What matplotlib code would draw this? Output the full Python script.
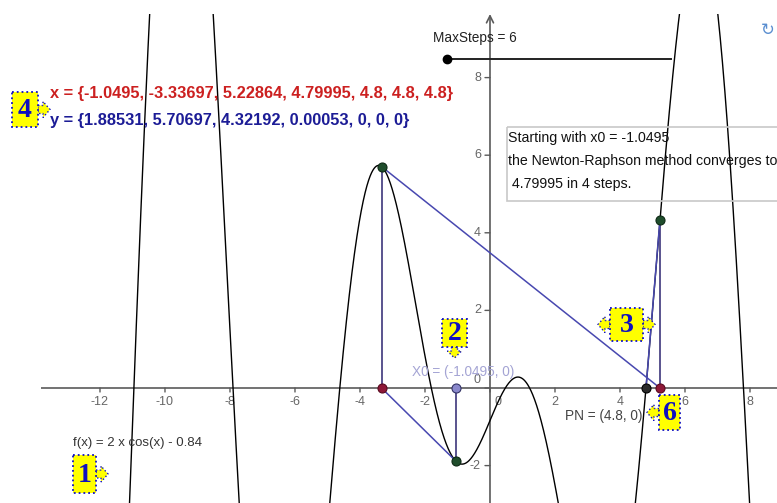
import numpy as np
import matplotlib.pyplot as plt
from matplotlib.patches import Rectangle, Polygon

# f(x) = 2 x cos(x) - 0.84
A_COEF = 2.0
B_COEF = -0.84

# Newton-Raphson iterates, as listed in the worksheet
x_steps = [-1.0495, -3.33697, 5.22864, 4.79995, 4.8, 4.8, 4.8]
y_steps = [1.88531, 5.70697, 4.32192, 0.00053, 0, 0, 0]
# signed function values at the first three iterates
f_steps = [-1.88531, 5.70697, 4.32192]
x_root = 4.8
max_steps = 6

x_ticks = [-12, -10, -8, -6, -4, -2, 0, 2, 4, 6, 8]
y_ticks = [-2, 0, 2, 4, 6, 8]

W, H = 777, 503
FONT = "Liberation Sans"
AXIS_GRAY = "#5a5a5a"
TANGENT_BLUE = "#4848b0"
VERT_NAVY = "#2c2470"


def f(x):
    return A_COEF * x * np.cos(x) + B_COEF


def fmt_list(vals):
    return "{" + ", ".join(f"{v:g}" for v in vals) + "}"


def callout(ov, x0, y0, w, h, label, arrows):
    """Yellow numbered tag with dotted blue border and little arrow tabs."""
    yellow, blue = "#ffff00", "#1010c0"
    xc, yc = x0 + w / 2, y0 + h / 2
    for side in arrows:
        if side == "right":
            b = x0 + w
            pts = [(b, yc - 4), (b + 5, yc - 4), (b + 5, yc - 8), (b + 12, yc),
                   (b + 5, yc + 8), (b + 5, yc + 4), (b, yc + 4)]
        elif side == "left":
            b = x0
            pts = [(b, yc - 4), (b - 5, yc - 4), (b - 5, yc - 8), (b - 12, yc),
                   (b - 5, yc + 8), (b - 5, yc + 4), (b, yc + 4)]
        else:  # down
            b = y0 + h
            pts = [(xc - 3, b), (xc - 3, b + 4), (xc - 7, b + 4), (xc, b + 11),
                   (xc + 7, b + 4), (xc + 3, b + 4), (xc + 3, b)]
        ov.add_patch(Polygon(pts, closed=True, facecolor=yellow, edgecolor=blue,
                             lw=1.0, ls=":", zorder=5))
    ov.add_patch(Rectangle((x0, y0), w, h, facecolor=yellow, edgecolor=blue,
                           lw=1.3, ls=":", zorder=6))
    ov.text(xc, yc + 1, label, ha="center", va="center", color=blue,
            fontsize=20, fontweight="bold", family="Liberation Serif", zorder=7)


fig = plt.figure(figsize=(W / 100, H / 100), dpi=100)
fig.patch.set_facecolor("white")

# graphics view: pixel 41..777 horizontally, 14..503 vertically
ax = fig.add_axes([41 / W, 0, 736 / W, 489 / H])
ax.set_xlim(-13.815, 8.831)
ax.set_ylim(-2.964, 9.639)
ax.axis("off")

# axes with ticks
ax.axhline(0, color=AXIS_GRAY, lw=1.2, zorder=1)
ax.annotate("", xy=(0, 9.639), xytext=(0, -2.964),
            arrowprops=dict(arrowstyle="->,head_length=0.5,head_width=0.25",
                            color=AXIS_GRAY, lw=1.2, shrinkA=0, shrinkB=0),
            zorder=1)
for t in x_ticks:
    ax.annotate("", xy=(t, 0), xytext=(0, -4), textcoords="offset pixels",
                arrowprops=dict(arrowstyle="-", color=AXIS_GRAY, lw=1,
                                shrinkA=0, shrinkB=0))
    dx = 8 if t == 0 else 0
    ax.annotate(f"{t}", xy=(t, 0), xytext=(dx, -14), textcoords="offset pixels",
                ha="center", va="center", fontsize=9, color="#666666",
                family=FONT)
for t in y_ticks:
    ax.annotate("", xy=(0, t), xytext=(-5, 0), textcoords="offset pixels",
                arrowprops=dict(arrowstyle="-", color=AXIS_GRAY, lw=1,
                                shrinkA=0, shrinkB=0))
    dy = 8 if t == 0 else 0
    ax.annotate(f"{t}", xy=(0, t), xytext=(-9, dy), textcoords="offset pixels",
                ha="right", va="center", fontsize=9, color="#666666",
                family=FONT)

# function graph
xs = np.linspace(-13.9, 8.9, 3000)
ax.plot(xs, f(xs), color="black", lw=1.0, zorder=3)

# Newton-Raphson construction
for k in range(3):
    xk, fk, xn = x_steps[k], f_steps[k], x_steps[k + 1]
    ax.plot([xk, xk], [0, fk], color=VERT_NAVY, lw=1.1, zorder=4)
    ax.plot([xk, xn], [fk, 0], color=TANGENT_BLUE, lw=1.1, zorder=4)

ax.plot(x_steps[1:3], [0, 0], "o", ms=6.5, mfc="#8e1838", mec="#5a0a20",
        mew=0.8, zorder=6)
ax.plot(x_steps[:3], f_steps, "o", ms=6.5, mfc="#1f4d2c", mec="#0d2a15",
        mew=0.8, zorder=6)
ax.plot([x_steps[0]], [0], "o", ms=6.5, mfc="#8a88cc", mec="#333366",
        mew=0.8, zorder=6)
ax.plot([x_root], [0], "o", ms=6.5, mfc="#2a2a2a", mec="black", mew=0.8,
        zorder=7)

# overlay in pixel units for labels, slider and tags
ov = fig.add_axes([0, 0, 1, 1], zorder=5)
ov.set_xlim(0, W)
ov.set_ylim(H, 0)
ov.axis("off")
ov.patch.set_alpha(0)

ov.text(412, 372, f"X0 = ({x_steps[0]}, 0)", color="#a4a4d4", fontsize=9.8,
        family=FONT, va="center")
ov.text(565, 416, f"PN = ({x_root}, 0)", color="#444444", fontsize=9.8,
        family=FONT, va="center")
ov.text(73, 443, "f(x) = 2 x cos(x) - 0.84", color="#333333", fontsize=9.5,
        family=FONT, va="center")

ov.text(50, 93, "x = " + fmt_list(x_steps), color="#cc2020", fontsize=11.8,
        fontweight="bold", family=FONT, va="center")
ov.text(50, 120, "y = " + fmt_list(y_steps), color="#1c1c96", fontsize=11.8,
        fontweight="bold", family=FONT, va="center")

# MaxSteps slider
ov.text(433, 38, f"MaxSteps = {max_steps}", color="#222222", fontsize=9.8,
        family=FONT, va="center")
ov.plot([447, 671], [59, 59], color="#222222", lw=1.4, zorder=2)
ov.plot([447], [59], "o", ms=6, color="black", zorder=3)
ov.text(768, 30, "\u21bb", color="#5a8ed0", fontsize=12, ha="center",
        va="center", family="DejaVu Sans")

# result text box
ov.add_patch(Rectangle((507, 127), 300, 74, facecolor="none",
                       edgecolor="#c8c8c8", lw=1.2, zorder=1))
ov.text(508, 138, f"Starting with x0 = {x_steps[0]}", color="#111111",
        fontsize=10.2, family=FONT, va="center")
ov.text(508, 161, "the Newton-Raphson method converges to", color="#111111",
        fontsize=10.2, family=FONT, va="center")
ov.text(508, 184, f" {x_steps[3]} in 4 steps.", color="#111111",
        fontsize=10.2, family=FONT, va="center")

callout(ov, 12, 92, 26, 35, "4", ["right"])
callout(ov, 73, 455, 23, 38, "1", ["right"])
callout(ov, 442, 319, 25, 28, "2", ["down"])
callout(ov, 610, 308, 33, 33, "3", ["left", "right"])
callout(ov, 659, 395, 21, 35, "6", ["left"])

fig.savefig("out.png", dpi=100)
